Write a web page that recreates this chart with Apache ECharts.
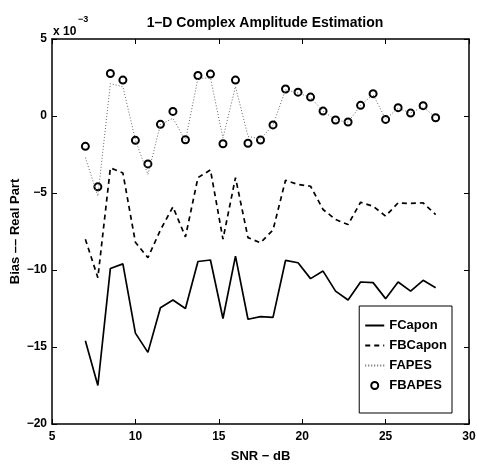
<!DOCTYPE html>
<html><head><meta charset="utf-8">
<script src="https://cdn.jsdelivr.net/npm/echarts@6/dist/echarts.min.js"></script>
<style>html,body{margin:0;padding:0;background:#fff}#c{width:477px;height:464px}</style>
</head><body><div id="c"></div>
<script>
var snr = [7,7.75,8.5,9.25,10,10.75,11.5,12.25,13,13.75,14.5,15.25,16,16.75,17.5,18.25,19,19.75,20.5,21.25,22,22.75,23.5,24.25,25,25.75,26.5,27.25,28];
var fcapon = [-14.6,-17.5,-9.9,-9.6,-14.1,-15.35,-12.45,-11.95,-12.5,-9.45,-9.35,-13.15,-9.1,-13.2,-13.03,-13.08,-9.38,-9.53,-10.56,-10.07,-11.37,-11.95,-10.78,-10.82,-11.86,-10.78,-11.37,-10.67,-11.15];
var fbcapon = [-8.0,-10.5,-3.37,-3.7,-8.2,-9.2,-7.4,-5.9,-7.85,-4.0,-3.5,-8.0,-4.0,-7.9,-8.23,-7.4,-4.17,-4.45,-4.56,-6.07,-6.72,-7.05,-5.6,-5.86,-6.5,-5.64,-5.68,-5.64,-6.4];
var fapes = [-2.7,-5.2,2.1,1.9,-1.55,-3.8,-0.56,-0.15,-1.6,2.46,2.46,-1.43,1.92,-1.32,-1.5,-0.6,1.7,1.5,1.2,0.32,-0.26,-0.4,0.69,1.4,-0.2,0.5,0.2,0.6,-0.1];
var fbapes = [-1.97,-4.6,2.76,2.33,-1.58,-3.11,-0.54,0.3,-1.54,2.63,2.72,-1.8,2.33,-1.77,-1.56,-0.58,1.75,1.55,1.23,0.32,-0.26,-0.39,0.69,1.45,-0.22,0.54,0.19,0.67,-0.11];
var xTicks = [5,10,15,20,25,30];
var yTicks = [-20,-15,-10,-5,0,5];

function pairs(ys){return snr.map(function(x,i){return [x,ys[i]];});}
var FONT = 'Liberation Sans';
var minus = function(v){return String(v).replace('-','\u2212');};
var chart = echarts.init(document.getElementById('c'), null, {renderer:'canvas'});
var axisLine = {show:true, onZero:false, lineStyle:{color:'#000', width:1.5}};
var tick = {show:true, inside:true, length:5, lineStyle:{color:'#000', width:1}};
chart.setOption({
  backgroundColor:'#fff',
  animation:false,
  title:{text:'1\u2013D Complex Amplitude Estimation', left:260, top:11, textAlign:'center',
    textStyle:{fontFamily:FONT, fontWeight:'bold', fontSize:14, color:'#000'}},
  grid:{left:52, right:8, top:39, bottom:40, containLabel:false, outerBoundsMode:'none'},
  xAxis:[{type:'value', min:xTicks[0], max:xTicks[xTicks.length-1], interval:5,
    name:'SNR \u2212 dB', nameLocation:'middle', nameGap:26, nameMoveOverlap:false,
    nameTextStyle:{fontFamily:FONT, fontWeight:'bold', fontSize:13, color:'#000'},
    axisLine:axisLine, axisTick:tick, splitLine:{show:false},
    axisLabel:{fontFamily:FONT, fontWeight:'bold', fontSize:12, color:'#000', margin:7, formatter:minus}},
   {type:'value', position:'top', min:5, max:30, interval:5, axisLine:axisLine, axisTick:tick,
    axisLabel:{show:false}, splitLine:{show:false}}],
  yAxis:[{type:'value', min:yTicks[0], max:yTicks[yTicks.length-1], interval:5,
    name:'Bias \u2013\u2013 Real Part', nameLocation:'middle', nameGap:30, nameMoveOverlap:false,
    nameTextStyle:{fontFamily:FONT, fontWeight:'bold', fontSize:13, color:'#000'},
    axisLine:axisLine, axisTick:tick, splitLine:{show:false},
    axisLabel:{fontFamily:FONT, fontWeight:'bold', fontSize:12, color:'#000', margin:5, formatter:minus}},
   {type:'value', position:'right', min:-20, max:5, interval:5, axisLine:axisLine, axisTick:tick,
    axisLabel:{show:false}, splitLine:{show:false}}],
  graphic:[
    {type:'text', left:53, top:26, style:{text:'x 10', font:'bold 12px "Liberation Sans"', fill:'#000'}},
    {type:'text', left:78, top:15, style:{text:'\u22123', font:'bold 9px "Liberation Sans"', fill:'#000'}}
  ],
  legend:{right:25, bottom:51, orient:'vertical', itemGap:7, itemWidth:19, itemHeight:7,
    padding:[13,5,21,5], borderColor:'#000', borderWidth:1, backgroundColor:'#fff',
    textStyle:{fontFamily:FONT, fontWeight:'bold', fontSize:13, color:'#000'},
    data:[{name:'FCapon', itemStyle:{opacity:0}},{name:'FBCapon', itemStyle:{opacity:0}},
          {name:'FAPES', itemStyle:{opacity:0}},{name:'FBAPES'}]},
  series:[
    {name:'FCapon', type:'line', data:pairs(fcapon), symbol:'none', lineStyle:{color:'#000', width:1.7}, itemStyle:{color:'#000'}},
    {name:'FBCapon', type:'line', data:pairs(fbcapon), symbol:'none', lineStyle:{color:'#000', width:1.7, type:[5,4]}, itemStyle:{color:'#000'}},
    {name:'FAPES', type:'line', data:pairs(fapes), symbol:'none', lineStyle:{color:'#666', width:1, type:[1,2]}, itemStyle:{color:'#666'}},
    {name:'FBAPES', type:'scatter', data:pairs(fbapes), symbol:'circle', symbolSize:7,
      itemStyle:{color:'#fff', borderColor:'#000', borderWidth:2, opacity:1}}
  ]
});
</script></body></html>
